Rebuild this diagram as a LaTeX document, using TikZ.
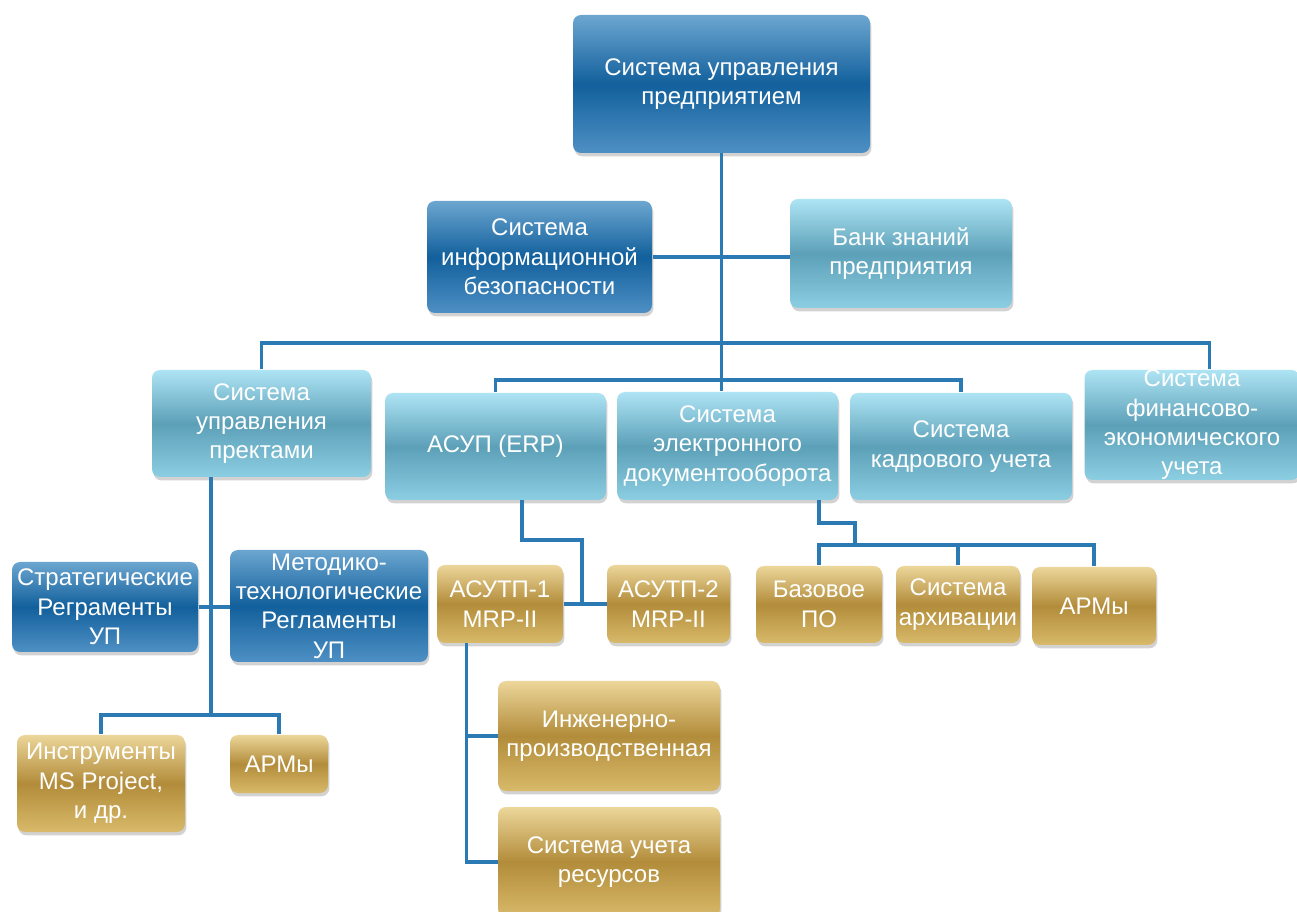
\documentclass[tikz,border=0pt]{standalone}
\usepackage{fontspec}
\setmainfont{Liberation Sans}
\usetikzlibrary{shadows}

\definecolor{dkTop}{RGB}{108,166,208}
\definecolor{dkMid}{RGB}{18,96,156}
\definecolor{dkBot}{RGB}{78,144,196}
\definecolor{ltTop}{RGB}{174,228,244}
\definecolor{ltMid}{RGB}{92,160,184}
\definecolor{ltBot}{RGB}{140,206,226}
\definecolor{gdTop}{RGB}{236,214,154}
\definecolor{gdMid}{RGB}{178,140,58}
\definecolor{gdBot}{RGB}{216,186,106}
\definecolor{linkBlue}{RGB}{44,122,180}

\tikzset{every picture/.style={line width=0.75pt}}
\tikzset{
  unit/.style={rounded corners=6pt, draw=none, text=white, align=center, inner sep=0pt,
    font=\fontsize{18}{22}\selectfont,
    drop shadow={shadow xshift=1pt, shadow yshift=-2.5pt, opacity=0.35}},
  dim/.style 2 args={minimum width=#1*0.75pt, minimum height=#2*0.75pt},
  darkunit/.style={unit, top color=dkTop, bottom color=dkBot, middle color=dkMid},
  lightunit/.style={unit, top color=ltTop, bottom color=ltBot, middle color=ltMid},
  goldunit/.style={unit, top color=gdTop, bottom color=gdBot, middle color=gdMid},
  link/.style={draw=linkBlue, line width=2.6pt}
}

\begin{document}
\begin{tikzpicture}[x=0.75pt,y=0.75pt,yscale=-1,xscale=1]
%set diagram left start at 0, and has height of 912
\fill[white] (0,0) rectangle (1297,912);
\useasboundingbox (0,0) rectangle (1297,912);

%Top level
\node[darkunit, dim={297}{138}] (top) at (721.5,84) {Система управления\\предприятием};
\node[darkunit, dim={225}{112}] (isec) at (539.5,257) {Система\\информационной\\безопасности};
\node[lightunit, dim={222}{109}] (bank) at (901,253.5) {Банк знаний\\предприятия};

%Second level
\node[lightunit, dim={219}{107}] (pm) at (261.5,423.5) {Система\\управления\\пректами};
\node[lightunit, dim={221}{107}] (erp) at (495.5,446.5) {АСУП (ERP)};
\node[lightunit, dim={221}{108}] (edo) at (727.5,446) {Система\\электронного\\документооборота};
\node[lightunit, dim={222}{107}] (hr) at (961,446.5) {Система\\кадрового учета};
\node[lightunit, dim={215}{110}] (fin) at (1192,425) {Система\\финансово-\\экономического\\учета};

%Third level
\node[darkunit, dim={186}{90}] (strat) at (105,607) {Стратегические\\Реграменты\\УП};
\node[darkunit, dim={198}{112}] (metod) at (329,606) {Методико-\\технологические\\Регламенты\\УП};
\node[goldunit, dim={126}{78}] (asutp1) at (500,604) {АСУТП-1\\MRP-II};
\node[goldunit, dim={123}{78}] (asutp2) at (668.5,604) {АСУТП-2\\MRP-II};
\node[goldunit, dim={126}{77}] (baz) at (819,604.5) {Базовое\\ПО};
\node[goldunit, dim={124}{77}] (arch) at (958,604.5) {Система\\архивации};
\node[goldunit, dim={124}{78}] (arm2) at (1094,606) {АРМы};

%Bottom level
\node[goldunit, dim={168}{97}] (instr) at (101,783.5) {Инструменты\\MS Project,\\и др.};
\node[goldunit, dim={98}{58}] (arm1) at (279,764) {АРМы};
\node[goldunit, dim={222}{110}] (inzh) at (609,736) {Инженерно-\\производственная};
\node[goldunit, dim={222}{110}] (res) at (609,862) {Система учета\\ресурсов};

%Connectors
\coordinate (busA) at (721.5,343);
\coordinate (busB) at (721.5,380);
\coordinate (finIn) at ([xshift=13pt]fin.north);
\draw[link] (top.south) -- (top.south |- edo.north);
\draw[link] (isec.east) -- (isec.east -| bank.west);
\draw[link] (pm.north) |- (busA) -| (finIn);
\draw[link] (erp.north) |- (busB) -| (hr.north);

\coordinate (pmFork) at (211,715);
\draw[link] (pm.south -| pmFork) -- (pmFork);
\draw[link] (instr.north) |- (pmFork) -| (arm1.north);
\draw[link] (strat.east) -- (strat.east -| metod.west);

\coordinate (erpOut) at ([xshift=20pt]erp.south);
\coordinate (erpBend) at (582,540);
\draw[link] (erpOut) |- (erpBend) |- (asutp1.east);
\draw[link] (asutp1.east) -- (asutp2.west);

\coordinate (asOut) at ([xshift=-25pt]asutp1.south);
\draw[link] (asOut) |- (res.west);
\draw[link] (inzh.west) -- (inzh.west -| asOut);

\coordinate (edoKnee) at (855,523);
\coordinate (edoFork) at (855,545);
\draw[link] (edo.south -| baz.north) |- (edoKnee) -- (edoFork);
\draw[link] (baz.north) |- (edoFork) -| (arm2.north);
\draw[link] (arch.north) -- (arch.north |- edoFork);

\end{tikzpicture}
\end{document}
